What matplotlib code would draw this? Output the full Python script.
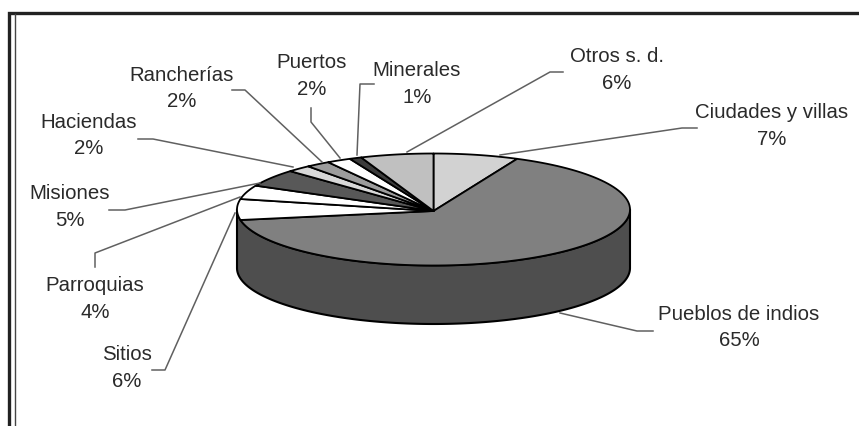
import numpy as np
import matplotlib
matplotlib.use('Agg')
import matplotlib.pyplot as plt
from matplotlib.patches import Polygon, Rectangle

plt.rcParams['font.family'] = ['Liberation Sans', 'DejaVu Sans']

# clockwise from 12 o'clock
categories = ['Ciudades y villas', 'Pueblos de indios', 'Sitios', 'Parroquias', 'Misiones',
              'Haciendas', 'Rancherías', 'Puertos', 'Minerales', 'Otros s. d.']
values = [7, 65, 6, 4, 5, 2, 2, 2, 1, 6]
shades = ['#d2d2d2', '#808080', '#ffffff', '#ffffff', '#585858',
          '#d8d8d8', '#9c9c9c', '#ffffff', '#3c3c3c', '#c0c0c0']
side_color = '#4e4e4e'

# label centres in pixels
label_pos = {
    'Ciudades y villas': (772, 126), 'Pueblos de indios': (739, 327.5), 'Sitios': (127, 368),
    'Parroquias': (95, 299), 'Misiones': (70, 207), 'Haciendas': (89, 135.5),
    'Rancherías': (182, 88.5), 'Puertos': (312, 76), 'Minerales': (417, 84), 'Otros s. d.': (617, 70),
}
# leader lines, label end first
leaders = {
    'Ciudades y villas': [(697, 128), (682, 128), (500, 155)],
    'Pueblos de indios': [(653, 331), (637, 331), (560, 313)],
    'Sitios': [(152, 370), (165, 370), (235, 213)],
    'Parroquias': [(95, 267), (95, 253), (240, 197)],
    'Misiones': [(109, 210), (125, 210), (260, 183)],
    'Haciendas': [(138, 139), (153, 139), (293, 167)],
    'Rancherías': [(232, 90), (245, 90), (322, 162)],
    'Puertos': [(311, 108), (311, 122), (340, 158)],
    'Minerales': [(374, 84), (360, 84), (357, 155)],
    'Otros s. d.': [(563, 72), (550, 72), (407, 152)],
}

cx, cy, rx, ry, depth = 433.5, 209.5, 196.5, 56, 58.5


def rim(a, dy=0):
    # a in degrees clockwise from the top
    a = np.radians(a)
    return np.column_stack([cx + rx * np.sin(a), cy + dy - ry * np.cos(a)])


fig = plt.figure(figsize=(8.59, 4.26), dpi=100)
ax = fig.add_axes([0, 0, 1, 1])
ax.set_xlim(0, 859)
ax.set_ylim(426, 0)
ax.axis('off')

# frame
ax.add_patch(Rectangle((0, 0), 859, 426, fc='white', ec='none', zorder=0))
ax.plot([9, 9, 859], [426, 13, 13], color='#222222', lw=2.4, solid_joinstyle='miter')
ax.plot([14.5, 14.5], [14, 426], color='#444444', lw=1.0)

# side of the cylinder
arc = np.linspace(90, 270, 200)
side = np.vstack([rim(arc), rim(arc[::-1], depth)])
ax.add_patch(Polygon(side, fc=side_color, ec='black', lw=1.5, joinstyle='round', zorder=2))

# top slices
edges = np.cumsum([0] + values) / sum(values) * 360
for start, end, shade in zip(edges[:-1], edges[1:], shades):
    pts = np.vstack([[cx, cy + 1.5], rim(np.linspace(start, end, 120))])
    ax.add_patch(Polygon(pts, fc=shade, ec='black', lw=1.3, joinstyle='round', zorder=3))

for name, val in zip(categories, values):
    xs, ys = zip(*leaders[name])
    ax.plot(xs, ys, color='#606060', lw=1.1, zorder=4 if name != 'Pueblos de indios' else 1)
    x, y = label_pos[name]
    ax.text(x, y, f'{name}\n{val}%', ha='center', va='center', fontsize=14.7,
            color='#2a2a2a', linespacing=1.52, zorder=5)

fig.savefig('out.png', dpi=100)
